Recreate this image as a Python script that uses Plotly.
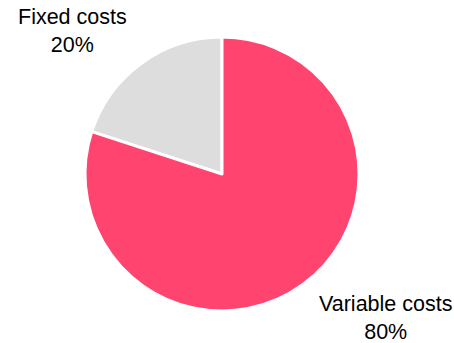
import plotly.graph_objects as go

labels = ["Fixed costs", "Variable costs"]
values = [20, 80]
colors = ["#DDDDDD", "#FF446F"]

W, H = 454, 343
cx, cy, r = 222, 174, 137

fig = go.Figure(go.Pie(
    labels=labels, values=values, sort=False, direction="clockwise", rotation=288,
    marker=dict(colors=colors, line=dict(color="white", width=3)),
    textinfo="none", hoverinfo="label+percent", showlegend=False,
    domain=dict(x=[(cx - r) / W, (cx + r) / W], y=[(H - cy - r) / H, (H - cy + r) / H]),
))

total = sum(values)
label_pos = [(72, 31), (385, 318)]
for lab, val, (x, y) in zip(labels, values, label_pos):
    fig.add_annotation(
        x=x / W, y=1 - y / H, xref="paper", yref="paper",
        text=f"{lab}<br>{round(100 * val / total)}%", showarrow=False,
        font=dict(family="Liberation Sans, Arial, sans-serif", size=21.5, color="#000000"),
        align="center", xanchor="center", yanchor="middle",
    )

fig.update_layout(width=W, height=H, margin=dict(l=0, r=0, t=0, b=0),
                  paper_bgcolor="white", plot_bgcolor="white")
fig.write_html("out.html")
